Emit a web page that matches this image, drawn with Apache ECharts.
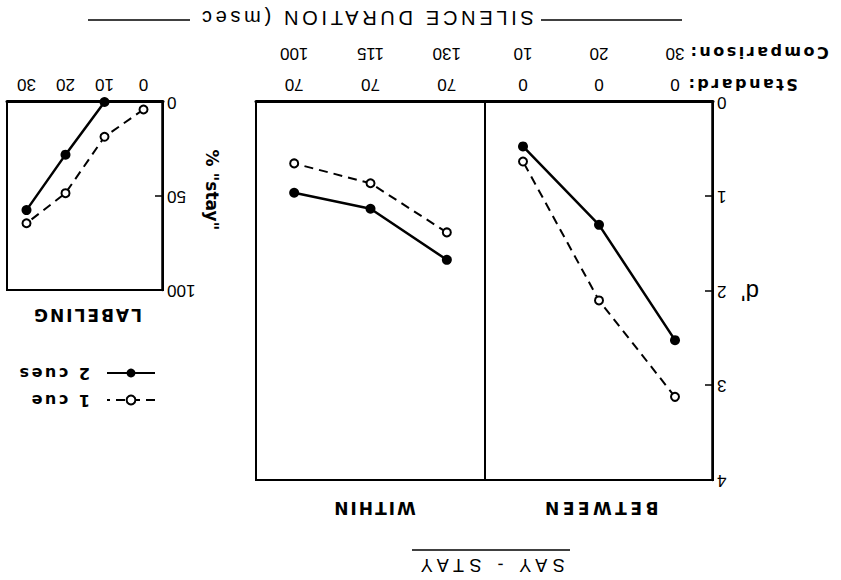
<!DOCTYPE html>
<html lang="en">
<head>
<meta charset="UTF-8">
<title>SAY - STAY</title>
<script src="https://cdn.jsdelivr.net/npm/echarts@6.0.0/dist/echarts.min.js"></script>
<style>
  html, body { margin: 0; padding: 0; background: #fff; }
  /* the printed figure is upside down: draw it upright, then turn the box */
  #chart { width: 841px; height: 580px; transform: rotate(180deg); }
</style>
</head>
<body>
<div id="chart"></div>
<script>
// silence durations (msec)
const betweenStandard = [0, 0, 0];
const betweenComparison = [30, 20, 10];
const withinStandard = [70, 70, 70];
const withinComparison = [130, 115, 100];
const labelingSilence = ['0', '10', '20', '30'];

// d' values
const betweenTwoCues = [2.52, 1.30, 0.47];
const betweenOneCue = [3.12, 2.10, 0.63];
const withinTwoCues = [1.67, 1.13, 0.96];
const withinOneCue = [1.38, 0.86, 0.65];

// % "stay"
const labelingTwoCues = [null, 0, 28, 57.5];
const labelingOneCue = [4, 18.5, 48.5, 64.5];

const betweenCats = betweenStandard.map((s, i) => s + '\n' + betweenComparison[i]);
const withinCats = withinStandard.map((s, i) => s + '\n' + withinComparison[i]);

const numFont = 'Liberation Sans';
const boldFont = 'DejaVu Sans';

// letter spacing for the widely tracked lettering of the original
const tracking = {
  'BETWEEN': 3.5, 'WITHIN': 2, 'LABELING': 2,
  'Standard:': 2.5, 'Comparison:': 2.5,
  'SILENCE DURATION (msec': 3.7, 'SAY - STAY': 5.5,
  '1 cue': 2.5, '2 cues': 2.5
};

function mainX(grid, cats) {
  return {
    gridIndex: grid, type: 'category', data: cats, boundaryGap: true,
    axisLine: { lineStyle: { color: '#000', width: 3 } },
    axisTick: { alignWithLabel: true, length: 7, lineStyle: { color: '#000', width: 1.5 } },
    axisLabel: { color: '#000', fontFamily: numFont, fontSize: 17, lineHeight: 31, margin: 2 },
    splitLine: { show: false }
  };
}
function innerTickX(grid, cats) {
  return {
    gridIndex: grid, type: 'category', data: cats, boundaryGap: true,
    axisLine: { show: false },
    axisTick: { alignWithLabel: true, inside: true, length: 5, lineStyle: { color: '#000', width: 1.5 } },
    axisLabel: { show: false },
    splitLine: { show: false }
  };
}
function lineSeries(name, x, y, data, dashed) {
  return {
    name: name, type: 'line', xAxisIndex: x, yAxisIndex: y, data: data,
    symbol: dashed ? 'emptyCircle' : 'circle',
    symbolSize: dashed ? 8 : 10,
    clip: false,
    lineStyle: { color: '#000', width: dashed ? 2 : 2.5, type: dashed ? [9, 6] : 'solid' },
    itemStyle: { color: '#000', borderWidth: dashed ? 1.3 : 0 }
  };
}

const chart = echarts.init(document.getElementById('chart'), null, { renderer: 'svg' });

const option = {
  animation: false,
  backgroundColor: '#fff',
  grid: [
    { left: 128, right: 485, top: 100, bottom: 102, show: true, borderColor: '#000', borderWidth: 2 },
    { left: 356, right: 256, top: 100, bottom: 102, show: true, borderColor: '#000', borderWidth: 2 },
    { left: 678, right: 7, top: 290, bottom: 102, show: true, borderColor: '#000', borderWidth: 2 }
  ],
  xAxis: [
    mainX(0, betweenCats), innerTickX(0, betweenCats),
    mainX(1, withinCats), innerTickX(1, withinCats),
    mainX(2, labelingSilence), innerTickX(2, labelingSilence)
  ],
  yAxis: [
    {
      gridIndex: 0, type: 'value', min: 0, max: 4, interval: 1,
      axisLine: { show: true, lineStyle: { color: '#000', width: 2.5 } },
      axisTick: { show: true, inside: true, length: 8, lineStyle: { color: '#000', width: 1.5 } },
      axisLabel: { color: '#000', fontFamily: numFont, fontSize: 17, margin: 4 },
      splitLine: { show: false }
    },
    { gridIndex: 1, type: 'value', min: 0, max: 4, show: false },
    {
      gridIndex: 2, type: 'value', min: 0, max: 100, interval: 50,
      axisLine: { show: true, lineStyle: { color: '#000', width: 2.5 } },
      axisTick: { show: true, inside: true, length: 8, lineStyle: { color: '#000', width: 1.5 } },
      axisLabel: { color: '#000', fontFamily: numFont, fontSize: 17, margin: 4 },
      splitLine: { show: false }
    }
  ],
  legend: {
    data: ['1 cue', '2 cues'],
    orient: 'vertical', left: 680, top: 167,
    itemWidth: 48, itemHeight: 11, itemGap: 11,
    textStyle: { color: '#000', fontFamily: boldFont, fontWeight: 'bold', fontSize: 16, lineHeight: 16, padding: [0, 0, 0, 12] }
  },
  series: [
    lineSeries('2 cues', 0, 0, betweenTwoCues, false),
    lineSeries('1 cue', 0, 0, betweenOneCue, true),
    lineSeries('2 cues', 2, 1, withinTwoCues, false),
    lineSeries('1 cue', 2, 1, withinOneCue, true),
    lineSeries('2 cues', 4, 2, labelingTwoCues, false),
    lineSeries('1 cue', 4, 2, labelingOneCue, true)
  ],
  graphic: [
    { type: 'text', x: 351, y: 15, style: { text: 'SAY - STAY', font: '18px "Liberation Sans"', fill: '#000', textAlign: 'center', textVerticalAlign: 'middle' } },
    { type: 'line', shape: { x1: 271, y1: 30, x2: 429, y2: 30 }, style: { stroke: '#000', lineWidth: 1.5 } },
    { type: 'text', x: 241, y: 72, style: { text: 'BETWEEN', font: 'bold 17px "DejaVu Sans"', fill: '#000', textAlign: 'center', textVerticalAlign: 'middle' } },
    { type: 'text', x: 467, y: 72, style: { text: 'WITHIN', font: 'bold 17px "DejaVu Sans"', fill: '#000', textAlign: 'center', textVerticalAlign: 'middle' } },
    { type: 'text', x: 754, y: 265, style: { text: 'LABELING', font: 'bold 17px "DejaVu Sans"', fill: '#000', textAlign: 'center', textVerticalAlign: 'middle' } },
    { type: 'text', x: 91, y: 288, style: { text: "d'", font: '24px "Liberation Sans"', fill: '#000', textAlign: 'center', textVerticalAlign: 'middle' } },
    { type: 'text', x: 629, y: 390, rotation: Math.PI / 2, style: { text: '% "stay"', font: 'bold 17px "DejaVu Sans"', fill: '#000', textAlign: 'center', textVerticalAlign: 'middle' } },
    { type: 'text', x: 155, y: 496, style: { text: 'Standard:', font: 'bold 16px "DejaVu Sans"', fill: '#000', textAlign: 'right', textVerticalAlign: 'middle' } },
    { type: 'text', x: 153, y: 528, style: { text: 'Comparison:', font: 'bold 16px "DejaVu Sans"', fill: '#000', textAlign: 'right', textVerticalAlign: 'middle' } },
    { type: 'text', x: 475, y: 562, style: { text: 'SILENCE DURATION (msec', font: '20px "Liberation Sans"', fill: '#000', textAlign: 'center', textVerticalAlign: 'middle' } },
    { type: 'line', shape: { x1: 159, y1: 560, x2: 300, y2: 560 }, style: { stroke: '#000', lineWidth: 1.5 } },
    { type: 'line', shape: { x1: 651, y1: 560, x2: 753, y2: 560 }, style: { stroke: '#000', lineWidth: 1.5 } }
  ]
};

chart.setOption(option);

function applyTracking() {
  document.querySelectorAll('#chart svg text').forEach(t => {
    const ls = tracking[t.textContent.trim()];
    if (ls) t.style.letterSpacing = ls + 'px';
  });
}
applyTracking();
chart.on('finished', applyTracking);
</script>
</body>
</html>
